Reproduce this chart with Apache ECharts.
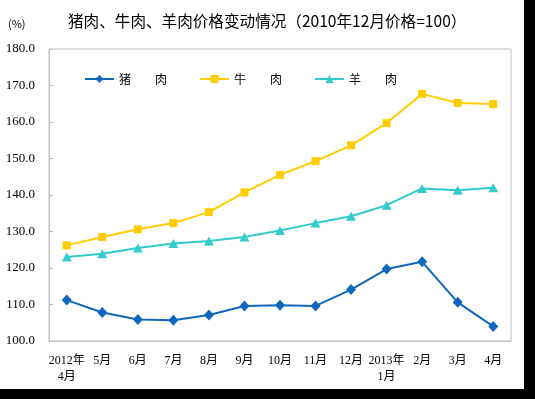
<!DOCTYPE html>
<html>
<head>
<meta charset="utf-8">
<script src="https://cdn.jsdelivr.net/npm/echarts@6/dist/echarts.min.js"></script>
<style>
  html, body { margin: 0; padding: 0; background: #000; }
  #chart { width: 524px; height: 389px; background: #fff; }
</style>
</head>
<body>
<div id="chart"></div>
<script>
const categories = ['2012年\n4月', '5月', '6月', '7月', '8月', '9月', '10月', '11月', '12月', '2013年\n1月', '2月', '3月', '4月'];
const pork   = [111.2, 107.8, 105.9, 105.7, 107.1, 109.6, 109.8, 109.6, 114.1, 119.7, 121.7, 110.6, 104.0];
const beef   = [126.2, 128.5, 130.6, 132.3, 135.3, 140.7, 145.5, 149.3, 153.6, 159.7, 167.7, 165.2, 164.9];
const mutton = [123.0, 123.9, 125.5, 126.7, 127.4, 128.5, 130.3, 132.3, 134.2, 137.2, 141.8, 141.3, 142.0];
const seriesNames = ['猪肉', '牛肉', '羊肉'];
const yTicks = { min: 100, max: 180, interval: 10 };

const chart = echarts.init(document.getElementById('chart'), null, { renderer: 'canvas' });
const serifFont = '"Liberation Serif", "Times New Roman", "Noto Sans CJK SC", serif';
const cjkFont = '"Noto Sans CJK SC", sans-serif';

chart.setOption({
  animation: false,
  backgroundColor: '#ffffff',
  title: {
    text: '猪肉、牛肉、羊肉价格变动情况（2010年12月价格=100）',
    left: 63,
    top: 8,
    textStyle: { fontFamily: cjkFont, fontSize: 15.6, fontWeight: 'normal', color: '#000' }
  },
  graphic: [{
    type: 'text',
    left: 8,
    top: 18,
    style: { text: '(%)', font: '11px ' + cjkFont, fill: '#000' }
  }],
  legend: {
    left: 79,
    top: 68,
    itemWidth: 29,
    itemHeight: 10,
    itemGap: 32,
    formatter: function (name) { return name[0] + '　　' + name[1]; },
    textStyle: { fontFamily: cjkFont, fontSize: 12, color: '#000' },
    data: seriesNames
  },
  grid: {
    left: 49,
    top: 49,
    right: 13,
    bottom: 48,
    show: true,
    borderColor: '#BFBFBF',
    borderWidth: 1,
    backgroundColor: '#ffffff'
  },
  xAxis: {
    type: 'category',
    data: categories,
    boundaryGap: true,
    axisLine: { lineStyle: { color: '#BFBFBF', width: 1 } },
    axisTick: { show: false },
    axisLabel: {
      interval: 0,
      margin: 12,
      fontFamily: serifFont,
      fontSize: 12,
      lineHeight: 16,
      color: '#000'
    },
    splitLine: { show: false }
  },
  yAxis: {
    type: 'value',
    min: yTicks.min,
    max: yTicks.max,
    interval: yTicks.interval,
    axisLine: { show: true, lineStyle: { color: '#BFBFBF', width: 1 } },
    axisTick: { show: true, inside: true, length: 4, lineStyle: { color: '#BFBFBF' } },
    axisLabel: {
      margin: 14,
      fontFamily: serifFont,
      fontSize: 13,
      color: '#000',
      formatter: function (v) { return v.toFixed(1); }
    },
    splitLine: { show: false }
  },
  series: [
    {
      name: seriesNames[0], type: 'line', data: pork,
      symbol: 'diamond', symbolSize: [10, 11],
      lineStyle: { color: '#0F67BC', width: 2 },
      itemStyle: { color: '#0F67BC' }
    },
    {
      name: seriesNames[1], type: 'line', data: beef,
      symbol: 'rect', symbolSize: 8,
      lineStyle: { color: '#FFCC00', width: 2 },
      itemStyle: { color: '#FFCC00' }
    },
    {
      name: seriesNames[2], type: 'line', data: mutton,
      symbol: 'triangle', symbolSize: [10, 9],
      lineStyle: { color: '#33CCCC', width: 2 },
      itemStyle: { color: '#33CCCC' }
    }
  ]
});
</script>
</body>
</html>
